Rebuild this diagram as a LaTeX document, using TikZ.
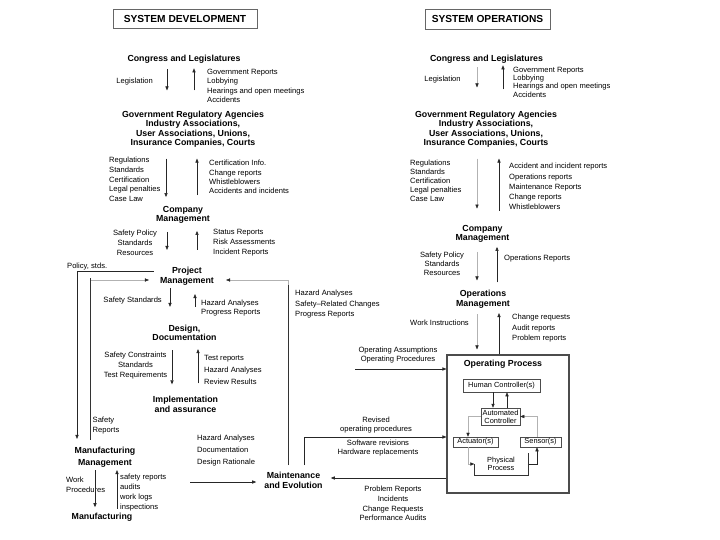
\documentclass[tikz,border=0pt]{standalone}
\usepackage{fontspec}
\setmainfont{Liberation Sans}
\usetikzlibrary{arrows.meta}
\begin{document}
\begin{tikzpicture}[x=1pt,y=-1pt,
  lbl/.style={inner sep=0pt, font=\fontsize{7.6}{#1}\selectfont},
  lbl/.default=9.5,
  hd/.style={inner sep=0pt, align=center, font=\bfseries\fontsize{8.8}{9.5}\selectfont},
  arr/.style={draw=black!85, line width=0.6pt, -{Triangle[length=4pt,width=3.2pt]}},
  farr/.style={draw=black!30, line width=0.45pt, -{Triangle[length=4pt,width=3.2pt,color=black!85]}},
  ln/.style={draw=black!80, line width=0.6pt},
  ttl/.style={draw=black!60, line width=0.8pt, inner sep=0pt, font=\bfseries\fontsize{10.2}{12}\selectfont},
  ibox/.style={draw=black!70, line width=0.5pt, inner sep=0pt, align=center, font=\fontsize{7.4}{8}\selectfont},
]
\useasboundingbox (0,0) rectangle (720,540);
\fill[white] (0,0) rectangle (720,540);

% titles
\node[ttl, minimum width=144pt, minimum height=19pt] (tdev) at (185,18.5) {SYSTEM DEVELOPMENT};
\node[ttl, minimum width=125pt, minimum height=20pt] (tops) at (487.5,19) {SYSTEM OPERATIONS};

% left headings
\node[hd] (cong1) at (184,59) {Congress and Legislatures};
\node[hd] (gov1) at (193,129) {Government Regulatory Agencies\\Industry Associations,\\User Associations, Unions,\\Insurance Companies, Courts};
\node[hd] (comp1) at (183,215) {Company\\Management};
\node[hd] (proj) at (187,276) {Project\\Management};
\node[hd] (design) at (184.5,333) {Design,\\Documentation};
\node[hd] (impl) at (185.5,404.5) {Implementation\\and assurance};
\node[hd, font=\bfseries\fontsize{8.8}{11.5}\selectfont] (mfgm) at (105,457) {Manufacturing\\Management};
\node[hd] (mfg) at (102,517) {Manufacturing};
\node[hd, inner xsep=8pt, inner ysep=6.5pt, font=\bfseries\fontsize{8.8}{10}\selectfont] (maint) at (293.5,480) {Maintenance\\and Evolution};

% right headings
\node[hd] (cong2) at (486.5,59) {Congress and Legislatures};
\node[hd] (gov2) at (486,129) {Government Regulatory Agencies\\Industry Associations,\\User Associations, Unions,\\Insurance Companies, Courts};
\node[hd] (comp2) at (482.5,234) {Company\\Management};
\node[hd] (ops) at (483,299) {Operations\\Management};
\node[draw=black!70, line width=1.1pt, minimum width=122pt, minimum height=138pt, inner sep=0pt] (opbox) at (508,424) {};
\node[hd] (optitle) at (503,364) {Operating Process};

% operating process inner
\node[ibox, minimum width=77pt, minimum height=13pt] (hc) at (501.5,385.5) {Human Controller(s)};
\node[ibox, minimum width=39pt, minimum height=17pt] (ac) at (500.5,416.5) {Automated\\Controller};
\node[ibox, minimum width=45pt, minimum height=10pt] (act) at (475.5,442) {Actuator(s)};
\node[ibox, minimum width=41pt, minimum height=10pt] (sen) at (540.5,442) {Sensor(s)};
\node[ibox, draw=none, minimum width=53pt, minimum height=22pt, font=\fontsize{7.4}{7.5}\selectfont] (pp) at (501,464) {Physical\\Process};

% left labels
\node[lbl, anchor=east] (leg1) at (153,82) {Legislation};
\node[lbl=9.4, anchor=west, align=left] (c1r) at (207,86) {Government Reports\\Lobbying\\Hearings and open meetings\\Accidents};
\node[lbl=9.75, anchor=west, align=left] (g1l) at (109,179.5) {Regulations\\Standards\\Certification\\Legal penalties\\Case Law};
\node[lbl=9.4, anchor=west, align=left] (g1r) at (209,177) {Certification Info.\\Change reports\\Whistleblowers\\Accidents and incidents};
\node[lbl=10, align=center] (c1l) at (135,243) {Safety Policy\\Standards\\Resources};
\node[lbl=10, anchor=west, align=left] (c1rr) at (213,243) {Status Reports\\Risk Assessments\\Incident Reports};
\node[lbl, anchor=west] (pol) at (67,267) {Policy, stds.};
\node[lbl, anchor=east] (ss) at (162,301) {Safety Standards};
\node[lbl=9, anchor=west, align=left] (p1r) at (201,308.5) {Hazard Analyses\\Progress Reports};
\node[lbl=10.5, anchor=west, align=left] (m1r) at (295,304.5) {Hazard Analyses\\Safety--Related Changes\\Progress Reports};
\node[lbl=10, align=center] (d1l) at (135.5,366) {Safety Constraints\\Standards\\Test Requirements};
\node[lbl=11.7, anchor=west, align=left] (d1r) at (204,370) {Test reports\\Hazard Analyses\\Review Results};
\node[lbl=10, anchor=west, align=left] (sr) at (92.5,426) {Safety\\Reports};
\node[lbl=10, anchor=west, align=left] (wp) at (66,485) {Work\\Procedures};
\node[lbl=9.7, anchor=west, align=left] (mfr) at (120,492.5) {safety reports\\audits\\work logs\\inspections};
\node[lbl=12, anchor=west, align=left] (hz) at (197,451) {Hazard Analyses\\Documentation\\Design Rationale};

% right labels
\node[lbl] (leg2) at (442.5,80) {Legislation};
\node[lbl=8.4, anchor=west, align=left] (c2r) at (513,82) {Government Reports\\Lobbying\\Hearings and open meetings\\Accidents};
\node[lbl=9, anchor=west, align=left] (g2l) at (410,181) {Regulations\\Standards\\Certification\\Legal penalties\\Case Law};
\node[lbl=10.2, anchor=west, align=left] (g2r) at (509,186.5) {Accident and incident reports\\Operations reports\\Maintenance Reports\\Change reports\\Whistleblowers};
\node[lbl=9, align=center] (c2l) at (442,264) {Safety Policy\\Standards\\Resources};
\node[lbl, anchor=west] (opr) at (504,259) {Operations Reports};
\node[lbl] (wi) at (439.5,323) {Work Instructions};
\node[lbl=10.5, anchor=west, align=left] (o2r) at (512,328.5) {Change requests\\Audit reports\\Problem reports};
\node[lbl=9, align=center] (oa) at (398,355.5) {Operating Assumptions\\Operating Procedures};
\node[lbl=8.5, align=center] (rv) at (376,425) {Revised\\operating procedures};
\node[lbl=8.5, align=center] (sw) at (378,448) {Software revisions\\Hardware replacements};
\node[lbl=9.7, align=center] (prr) at (393,503.5) {Problem Reports\\Incidents\\Change Requests\\Performance Audits};

% left arrows
\draw[arr] ([xshift=-17pt,yshift=-6pt]cong1.south) -- ([xshift=-26pt,yshift=20pt]gov1.north);
\draw[arr] ([xshift=1pt,yshift=20pt]gov1.north) -- ([xshift=10pt,yshift=-5pt]cong1.south);
\draw[arr] ([xshift=-27pt,yshift=-11pt]gov1.south) -- ([xshift=-17pt,yshift=9pt]comp1.north);
\draw[arr] ([xshift=14pt,yshift=11pt]comp1.north) -- ([xshift=4pt,yshift=-11pt]gov1.south);
\draw[arr] ([xshift=-16pt,yshift=-8pt]comp1.south) -- ([xshift=-20pt,yshift=17pt]proj.north);
\draw[arr] ([xshift=10pt,yshift=17pt]proj.north) -- ([xshift=14pt,yshift=-7pt]comp1.south);
\draw[arr] ([xshift=-17pt,yshift=-3pt]proj.south) -- ([xshift=-14.5pt,yshift=18pt]design.north);
\draw[arr] ([xshift=10.5pt,yshift=18pt]design.north) -- ([xshift=8pt,yshift=-9pt]proj.south);
\draw[arr] ([xshift=-12.5pt,yshift=-9pt]design.south) -- ([xshift=-13.5pt,yshift=12pt]impl.north);
\draw[arr] ([xshift=12.5pt,yshift=13pt]impl.north) -- ([xshift=13.5pt,yshift=-8pt]design.south);
\draw[arr] ([xshift=-10pt,yshift=-3pt]mfgm.south) -- ([xshift=-7pt,yshift=5.5pt]mfg.north);
\draw[arr] ([xshift=15pt,yshift=4pt]mfg.north) -- ([xshift=12pt,yshift=-3pt]mfgm.south);

\draw[arr] ([xshift=-6pt,yshift=5pt]proj.west) -| ([xshift=-28pt,yshift=8pt]mfgm.north);
% safety reports and maintenance feedback: faint horizontal runs, darker verticals
\draw[farr] ([xshift=-15pt,yshift=7pt]mfgm.north) |- ([xshift=-11pt,yshift=-4pt]proj.west);
\draw[ln] ([xshift=-15pt,yshift=7pt]mfgm.north) -- ([xshift=-15pt,yshift=7pt]mfgm.north |- proj.south);
\draw[farr] ([xshift=-5.5pt]maint.north) |- ([xshift=12pt,yshift=-4pt]proj.east);
\draw[ln] ([xshift=-5.5pt]maint.north) -- ([xshift=-5.5pt]maint.north |- proj.south);
\coordinate (hzS) at (190,482);
\draw[arr] (hzS) -- (hzS -| maint.west);
\draw[arr] ([xshift=10.5pt]maint.north) |- ([yshift=-13pt]opbox.west);
\coordinate (oaS) at (355,369);
\draw[arr] (oaS) -- (oaS -| opbox.west);
\coordinate (prS) at ([yshift=-54pt]opbox.west);
\draw[arr] (prS) -- (prS -| maint.east);

% right arrows
\draw[farr] ([xshift=-9.5pt,yshift=-4pt]cong2.south) -- ([xshift=-9pt,yshift=23pt]gov2.north);
\draw[arr] ([xshift=17pt,yshift=21pt]gov2.north) -- ([xshift=16.5pt,yshift=-2pt]cong2.south);
\draw[farr] ([xshift=-9pt,yshift=-11pt]gov2.south) -- ([xshift=-5.5pt,yshift=16.5pt]comp2.north);
\draw[arr] ([xshift=16.5pt,yshift=14.5pt]comp2.north) -- ([xshift=13pt,yshift=-11pt]gov2.south);
\draw[farr] ([xshift=-5.5pt,yshift=-9pt]comp2.south) -- ([xshift=-6pt,yshift=9.5pt]ops.north);
\draw[arr] ([xshift=14pt,yshift=7.5pt]ops.north) -- ([xshift=14.5pt,yshift=-4pt]comp2.south);
\draw[farr] ([xshift=-6pt,yshift=-6pt]ops.south) -- ([xshift=-31pt,yshift=5pt]opbox.north);
\draw[arr] ([xshift=-9pt]opbox.north) -- ([xshift=16pt,yshift=-5pt]ops.south);

% inner arrows
\draw[arr, line width=0.5pt] ([xshift=-8.5pt]hc.south) -- ([xshift=-7.5pt]ac.north);
\draw[arr, line width=0.5pt] ([xshift=6.5pt]ac.north) -- ([xshift=5.5pt]hc.south);
\draw[farr] (ac.west) -| ([xshift=-7.5pt]act.north);
\draw[farr] ([xshift=-3.5pt]sen.north) |- (ac.east);
\draw[farr] ([xshift=-7pt]act.south) |- (pp.west);
\draw[arr, line width=0.5pt] (pp.east) -| ([xshift=-3.5pt]sen.south);
\draw[ln, line width=0.5pt] (pp.west) -- (pp.south west) -- (pp.south east) -- (pp.north east);
\end{tikzpicture}
\end{document}
